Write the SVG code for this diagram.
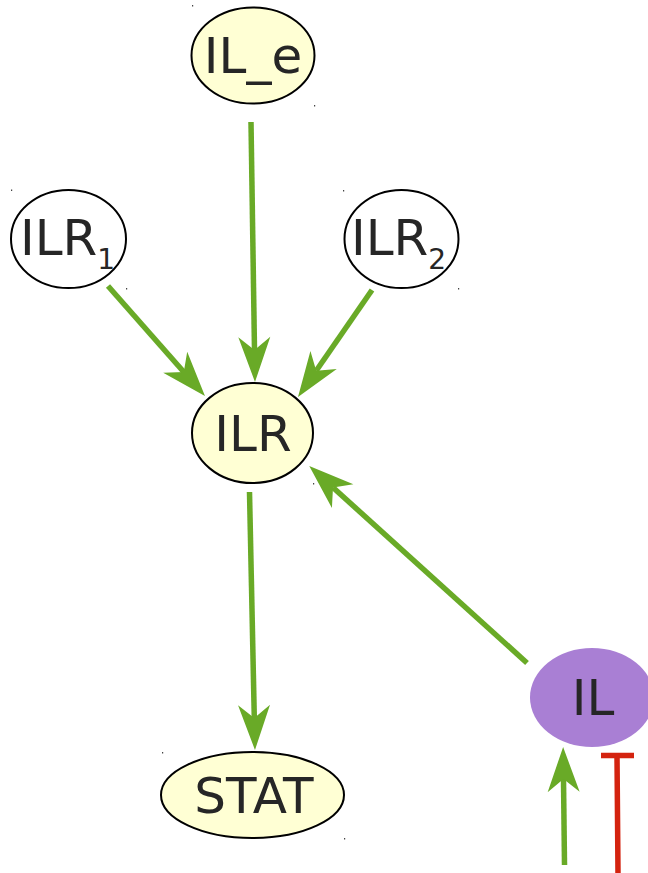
<svg xmlns="http://www.w3.org/2000/svg" width="648" height="873" viewBox="0 0 648 873">
<style>
.n{stroke:#000;stroke-width:2}
.y{fill:#ffffd4}
.w{fill:#fff}
.p{fill:#a97fd4;stroke:none}
.t{font-family:"DejaVu Sans","Liberation Sans",sans-serif;font-size:50px;fill:#262626}
.s{font-size:28px}
.e{fill:none;stroke:#69aa27;stroke-width:5.5}
.r{fill:none;stroke:#d4230f;stroke-width:5.5}
.d{fill:#444}
</style>
<defs>
<marker id="ah" markerUnits="userSpaceOnUse" viewBox="-15 -18 50 36" markerWidth="50" markerHeight="36" refX="0" refY="0" orient="auto" overflow="visible">
<path d="M32,0 L-13,-16 L0,0 L-13,16 Z" fill="#69aa27"/>
</marker>
</defs>
<g id="connectors">
<path class="e" d="M251,122 L254.5,350" marker-end="url(#ah)"/>
<path class="e" d="M108,286 L183.8,372" marker-end="url(#ah)"/>
<path class="e" d="M372,290 L316.2,370.7" marker-end="url(#ah)"/>
<path class="e" d="M249.5,492 L254.3,718" marker-end="url(#ah)"/>
<path class="e" d="M527,663 L333,487.5" marker-end="url(#ah)"/>
<path class="e" d="M564.5,865 L563.5,779" marker-end="url(#ah)"/>
<path class="r" d="M618,873 L617,756 M601,755.5 L634,755.5"/>
</g>
<g id="IL_e">
<ellipse class="n y" cx="253" cy="55.5" rx="61.5" ry="48"/>
<text class="t" x="253" y="73" text-anchor="middle">IL_e</text>
<rect class="d" x="192" y="5" width="1.2" height="1.5"/>
<rect class="d" x="314" y="105" width="1.2" height="1.5"/>
</g>
<g id="ILR1">
<ellipse class="n w" cx="68.5" cy="239" rx="57.5" ry="49"/>
<text class="t" x="20" y="255">ILR<tspan class="s" dy="14">1</tspan></text>
<rect class="d" x="11" y="189.5" width="1.2" height="1.5"/>
<rect class="d" x="126" y="288" width="1.2" height="1.5"/>
</g>
<g id="ILR2">
<ellipse class="n w" cx="401.5" cy="239" rx="57" ry="49"/>
<text class="t" x="351" y="255">ILR<tspan class="s" dy="14">2</tspan></text>
<rect class="d" x="343" y="190" width="1.2" height="1.5"/>
<rect class="d" x="458" y="288" width="1.2" height="1.5"/>
</g>
<g id="ILR">
<ellipse class="n y" cx="252.5" cy="433" rx="60.5" ry="50"/>
<text class="t" x="253" y="451" text-anchor="middle">ILR</text>
<rect class="d" x="313" y="483" width="1.2" height="1.5"/>
</g>
<g id="STAT">
<ellipse class="n y" cx="252.5" cy="795" rx="91.5" ry="43"/>
<text class="t" x="254" y="813" text-anchor="middle">STAT</text>
<rect class="d" x="162" y="752" width="1.2" height="1.5"/>
<rect class="d" x="344" y="838" width="1.2" height="1.5"/>
</g>
<g id="IL">
<ellipse class="p" cx="592" cy="697.5" rx="62" ry="49.5"/>
<text class="t" x="593" y="715" text-anchor="middle">IL</text>
</g>
</svg>
